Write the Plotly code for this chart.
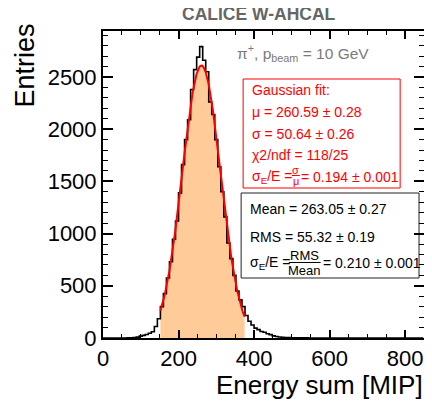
import plotly.graph_objects as go
import numpy as np

# ---------------- data ----------------
bin_width = 8
x_min, x_max = 0, 848
# entries per bin (bins of width 8 starting at 0)
entries = [
    0, 0, 0, 0, 0, 0, 0, 0,                      # 0 - 56
    1, 2, 5, 8, 18, 25, 33, 45, 60, 110,         # 64 - 136
    185, 300, 425, 575, 730, 945, 1120, 1390,    # 144 - 200
    1660, 1900, 2090, 2380, 2570, 2690, 2790,    # 208 - 256
    2660, 2550, 2260, 2140, 1900, 1640, 1400,    # 264 - 312
    1160, 910, 760, 600, 450, 365, 300, 215,     # 320 - 376
    160, 125, 95, 80, 62, 55, 40, 32, 20, 14,    # 384 - 456
    9, 7, 5, 4, 3, 2, 2, 1, 1, 1,                # 464 - 536
    0, 0, 0, 0, 0, 0, 0, 0, 0, 0,                # 544 - 616
    0, 0, 0, 0, 0, 0, 0, 0, 0, 0,                # 624 - 696
    0, 0, 0, 0, 0, 0, 0, 0, 0, 0,                # 704 - 776
    0, 0, 0, 0, 0, 0, 0, 0,                      # 784 - 840
]
bin_edges = list(range(x_min, x_max + bin_width, bin_width))

# Gaussian fit parameters
fit_amp = 2610
fit_mu = 260.59
fit_sigma = 50.64
fit_lo, fit_hi = 152, 375

x_tick_vals = [0, 200, 400, 600, 800]
y_tick_vals = [0, 500, 1000, 1500, 2000, 2500]

title_text = "CALICE W-AHCAL"
beam_text = "π<sup>+</sup>, p<sub>beam</sub> = 10 GeV"
fit_lines = ["Gaussian fit:", "μ = 260.59 ± 0.28", "σ = 50.64 ± 0.26", "χ2/ndf = 118/25"]
fit_res = "= 0.194 ± 0.001"
stat_lines = ["Mean = 263.05 ± 0.27", "RMS = 55.32 ± 0.19"]
stat_res = "= 0.210 ± 0.001"

# ---------------- figure ----------------
OFF = 8                      # page body margin
W, H = 424, 395
L, R, T, B = 95, 6, 23, 65
PW, PH = W - L - R, H - T - B
FONT = "Liberation Sans, Arial, Helvetica, sans-serif"


def X(px):  # page pixel -> paper
    return (px - OFF - L) / PW


def Y(py):
    return (H - B - (py - OFF)) / PH


fx = np.linspace(fit_lo, fit_hi, 300)
fy = fit_amp * np.exp(-0.5 * ((fx - fit_mu) / fit_sigma) ** 2)

fig = go.Figure()
fig.add_trace(go.Scatter(x=fx, y=fy, mode="none", fill="tozeroy",
                         fillcolor="rgb(255,204,153)", hoverinfo="skip"))
fig.add_trace(go.Scatter(x=bin_edges, y=entries + [entries[-1]], mode="lines",
                         line=dict(shape="hv", color="black", width=1.6)))
fig.add_trace(go.Scatter(x=fx, y=fy, mode="lines", line=dict(color="red", width=2)))

ann = []


def txt(text, px, py, size=14, color="black", xanchor="left", yanchor="middle", **kw):
    ann.append(dict(text=text, x=X(px), y=Y(py), xref="paper", yref="paper",
                    xanchor=xanchor, yanchor=yanchor, showarrow=False, borderpad=0,
                    font=dict(family=FONT, size=size, color=color), **kw))


txt("<b>%s</b>" % title_text, 260, 14.5, size=17.5, color="#666666", xanchor="center")
txt(beam_text, 237, 53, size=15.5, color="#7a7a7a")

red = "#ff0000"
for i, line in enumerate(fit_lines):
    txt(line, 252, [90, 112, 134, 155][i], color=red)
txt("σ<sub>E</sub>/E =", 252, 177, color=red)
txt("σ", 297, 169.5, size=11, color=red, xanchor="center")
txt("μ", 297, 181, size=11, color=red, xanchor="center")
txt(fit_res, 301, 177, color=red)

for i, line in enumerate(stat_lines):
    txt(line, 250, [208.5, 237][i])
txt("σ<sub>E</sub>/E =", 250, 263)
txt("RMS", 306, 255, size=13, xanchor="center")
txt("Mean", 306, 270, size=13, xanchor="center")
txt(stat_res, 323, 263)

txt("Entries", 25, 22, size=27, xanchor="center", yanchor="top", textangle=-90)
txt("Energy sum [MIP]", 426, 385, size=26, xanchor="right")

shapes = [
    dict(type="rect", xref="paper", yref="paper", x0=X(244), x1=X(402), y0=Y(188), y1=Y(79),
         line=dict(color=red, width=1), fillcolor="white", layer="below"),
    dict(type="line", xref="paper", yref="paper", x0=X(293), x1=X(301), y0=Y(175.5), y1=Y(175.5),
         line=dict(color=red, width=1)),
    dict(type="rect", xref="paper", yref="paper", x0=X(242), x1=X(421), y0=Y(278), y1=Y(193),
         line=dict(color="#222", width=1), fillcolor="white", layer="below"),
    dict(type="line", xref="paper", yref="paper", x0=X(290), x1=X(322), y0=Y(262.5), y1=Y(262.5),
         line=dict(color="black", width=1)),
]

axis_common = dict(showline=True, linecolor="black", linewidth=2, mirror="ticks",
                   ticks="inside", tickcolor="black", showgrid=False, zeroline=False,
                   tickfont=dict(family=FONT, size=22, color="black"))
fig.update_layout(
    width=W, height=H, margin=dict(l=L, r=R, t=T, b=B),
    paper_bgcolor="white", plot_bgcolor="white", showlegend=False,
    font=dict(family=FONT),
    xaxis=dict(range=[0, 850], tickvals=x_tick_vals, ticklen=8, tickwidth=1.5,
               minor=dict(dtick=50, tick0=0, ticklen=4, tickwidth=1, ticks="inside", tickcolor="black"),
               **axis_common),
    yaxis=dict(range=[0, 2940], tickvals=y_tick_vals, ticklen=10, tickwidth=1.5,
               minor=dict(dtick=100, tick0=0, ticklen=5, tickwidth=1, ticks="inside", tickcolor="black"),
               **axis_common),
    annotations=ann, shapes=shapes,
)
fig.write_html("out.html")
